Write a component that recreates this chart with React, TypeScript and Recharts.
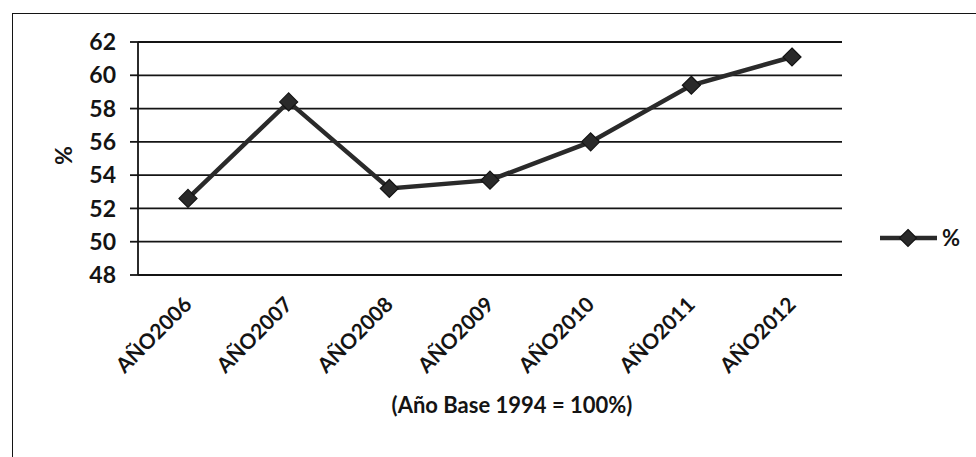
import React from 'react';
import { LineChart, Line, XAxis, YAxis, CartesianGrid, Legend } from 'recharts';

const years = ['AÑO2006', 'AÑO2007', 'AÑO2008', 'AÑO2009', 'AÑO2010', 'AÑO2011', 'AÑO2012'];
const percent = [52.6, 58.4, 53.2, 53.7, 56.0, 59.4, 61.1];
const yTicks = [48, 50, 52, 54, 56, 58, 60, 62];

const data = years.map((name, i) => ({ name, value: percent[i] }));

const FONT = 'Lato, "Open Sans", sans-serif';
const INK = '#141414';

const Diamond = (props: any) => {
  const { cx, cy, half = 9 } = props;
  if (cx == null || cy == null) return null;
  const r = half;
  return (
    <polygon
      points={`${cx},${cy - r} ${cx + r},${cy} ${cx},${cy + r} ${cx - r},${cy}`}
      fill="#2a2a2a"
      stroke={INK}
      strokeWidth={1.2}
    />
  );
};

const YearTick = (props: any) => {
  const { x, y, payload } = props;
  return (
    <g transform={`translate(${x + 5},${y + 31})`}>
      <text
        textAnchor="end"
        transform="rotate(-45)"
        fontFamily={FONT}
        fontWeight={700}
        fontSize={21}
        fill={INK}
      >
        {payload.value}
      </text>
    </g>
  );
};

const LegendBox = () => (
  <svg width={90} height={30} style={{ display: 'block', overflow: 'visible' }}>
    <line x1={0} y1={14} x2={57} y2={14} stroke="#2a2a2a" strokeWidth={4.5} />
    <Diamond cx={28} cy={14} half={8.5} />
    <text x={62} y={22} fontFamily={FONT} fontWeight={700} fontSize={22} fill={INK}>
      %
    </text>
  </svg>
);

const App = () => {
  return (
    <div style={{ position: 'absolute', left: 0, top: 0, width: 976, height: 457, background: '#fff' }}>
      <div
        style={{
          position: 'absolute',
          left: 12,
          top: 13,
          right: 0,
          bottom: 0,
          borderTop: `1.5px solid ${INK}`,
          borderLeft: `1.5px solid ${INK}`,
        }}
      />
      <LineChart
        width={976}
        height={457}
        data={data}
        margin={{ top: 42, right: 134, left: 0, bottom: 82 }}
      >
        <CartesianGrid horizontal vertical={false} stroke={INK} strokeWidth={1.8} />
        <XAxis
          dataKey="name"
          height={100}
          padding={{ left: 50, right: 50 }}
          tickLine={false}
          tickSize={0}
          tickMargin={0}
          axisLine={{ stroke: INK, strokeWidth: 1.8 }}
          tick={<YearTick />}
          interval={0}
          label={{
            content: (p: any) => {
              const vb = p.viewBox;
              return (
                <text
                  x={vb.x + vb.width / 2 + 22}
                  y={vb.y + 138}
                  textAnchor="middle"
                  fontFamily={FONT}
                  fontWeight={700}
                  fontSize={22}
                  fill={INK}
                >
                  (Año Base 1994 = 100%)
                </text>
              );
            },
          }}
        />
        <YAxis
          width={138}
          domain={[48, 62]}
          ticks={yTicks}
          interval={0}
          tickSize={8}
          tickMargin={14}
          tickLine={{ stroke: INK, strokeWidth: 1.8 }}
          axisLine={{ stroke: INK, strokeWidth: 1.8 }}
          tick={{ fontFamily: FONT, fontWeight: 700, fontSize: 23, fill: INK }}
          label={{
            content: (p: any) => {
              const vb = p.viewBox;
              const cx = vb.x + 63;
              const cy = vb.y + vb.height / 2 - 3;
              return (
                <text
                  x={cx}
                  y={cy}
                  textAnchor="middle"
                  dominantBaseline="central"
                  transform={`rotate(-90, ${cx}, ${cy})`}
                  fontFamily={FONT}
                  fontWeight={700}
                  fontSize={23}
                  fill={INK}
                >
                  %
                </text>
              );
            },
          }}
        />
        <Legend
          layout="vertical"
          align="center"
          verticalAlign="middle"
          content={() => <LegendBox />}
          wrapperStyle={{ position: 'absolute', left: 880, top: 224, width: 90, height: 30 }}
        />
        <Line
          type="linear"
          dataKey="value"
          name="%"
          stroke="#2a2a2a"
          strokeWidth={4.5}
          dot={(p: any) => <Diamond key={p.index} cx={p.cx} cy={p.cy} half={9} />}
          activeDot={false}
          isAnimationActive={false}
        />
      </LineChart>
    </div>
  );
};

export default App;
